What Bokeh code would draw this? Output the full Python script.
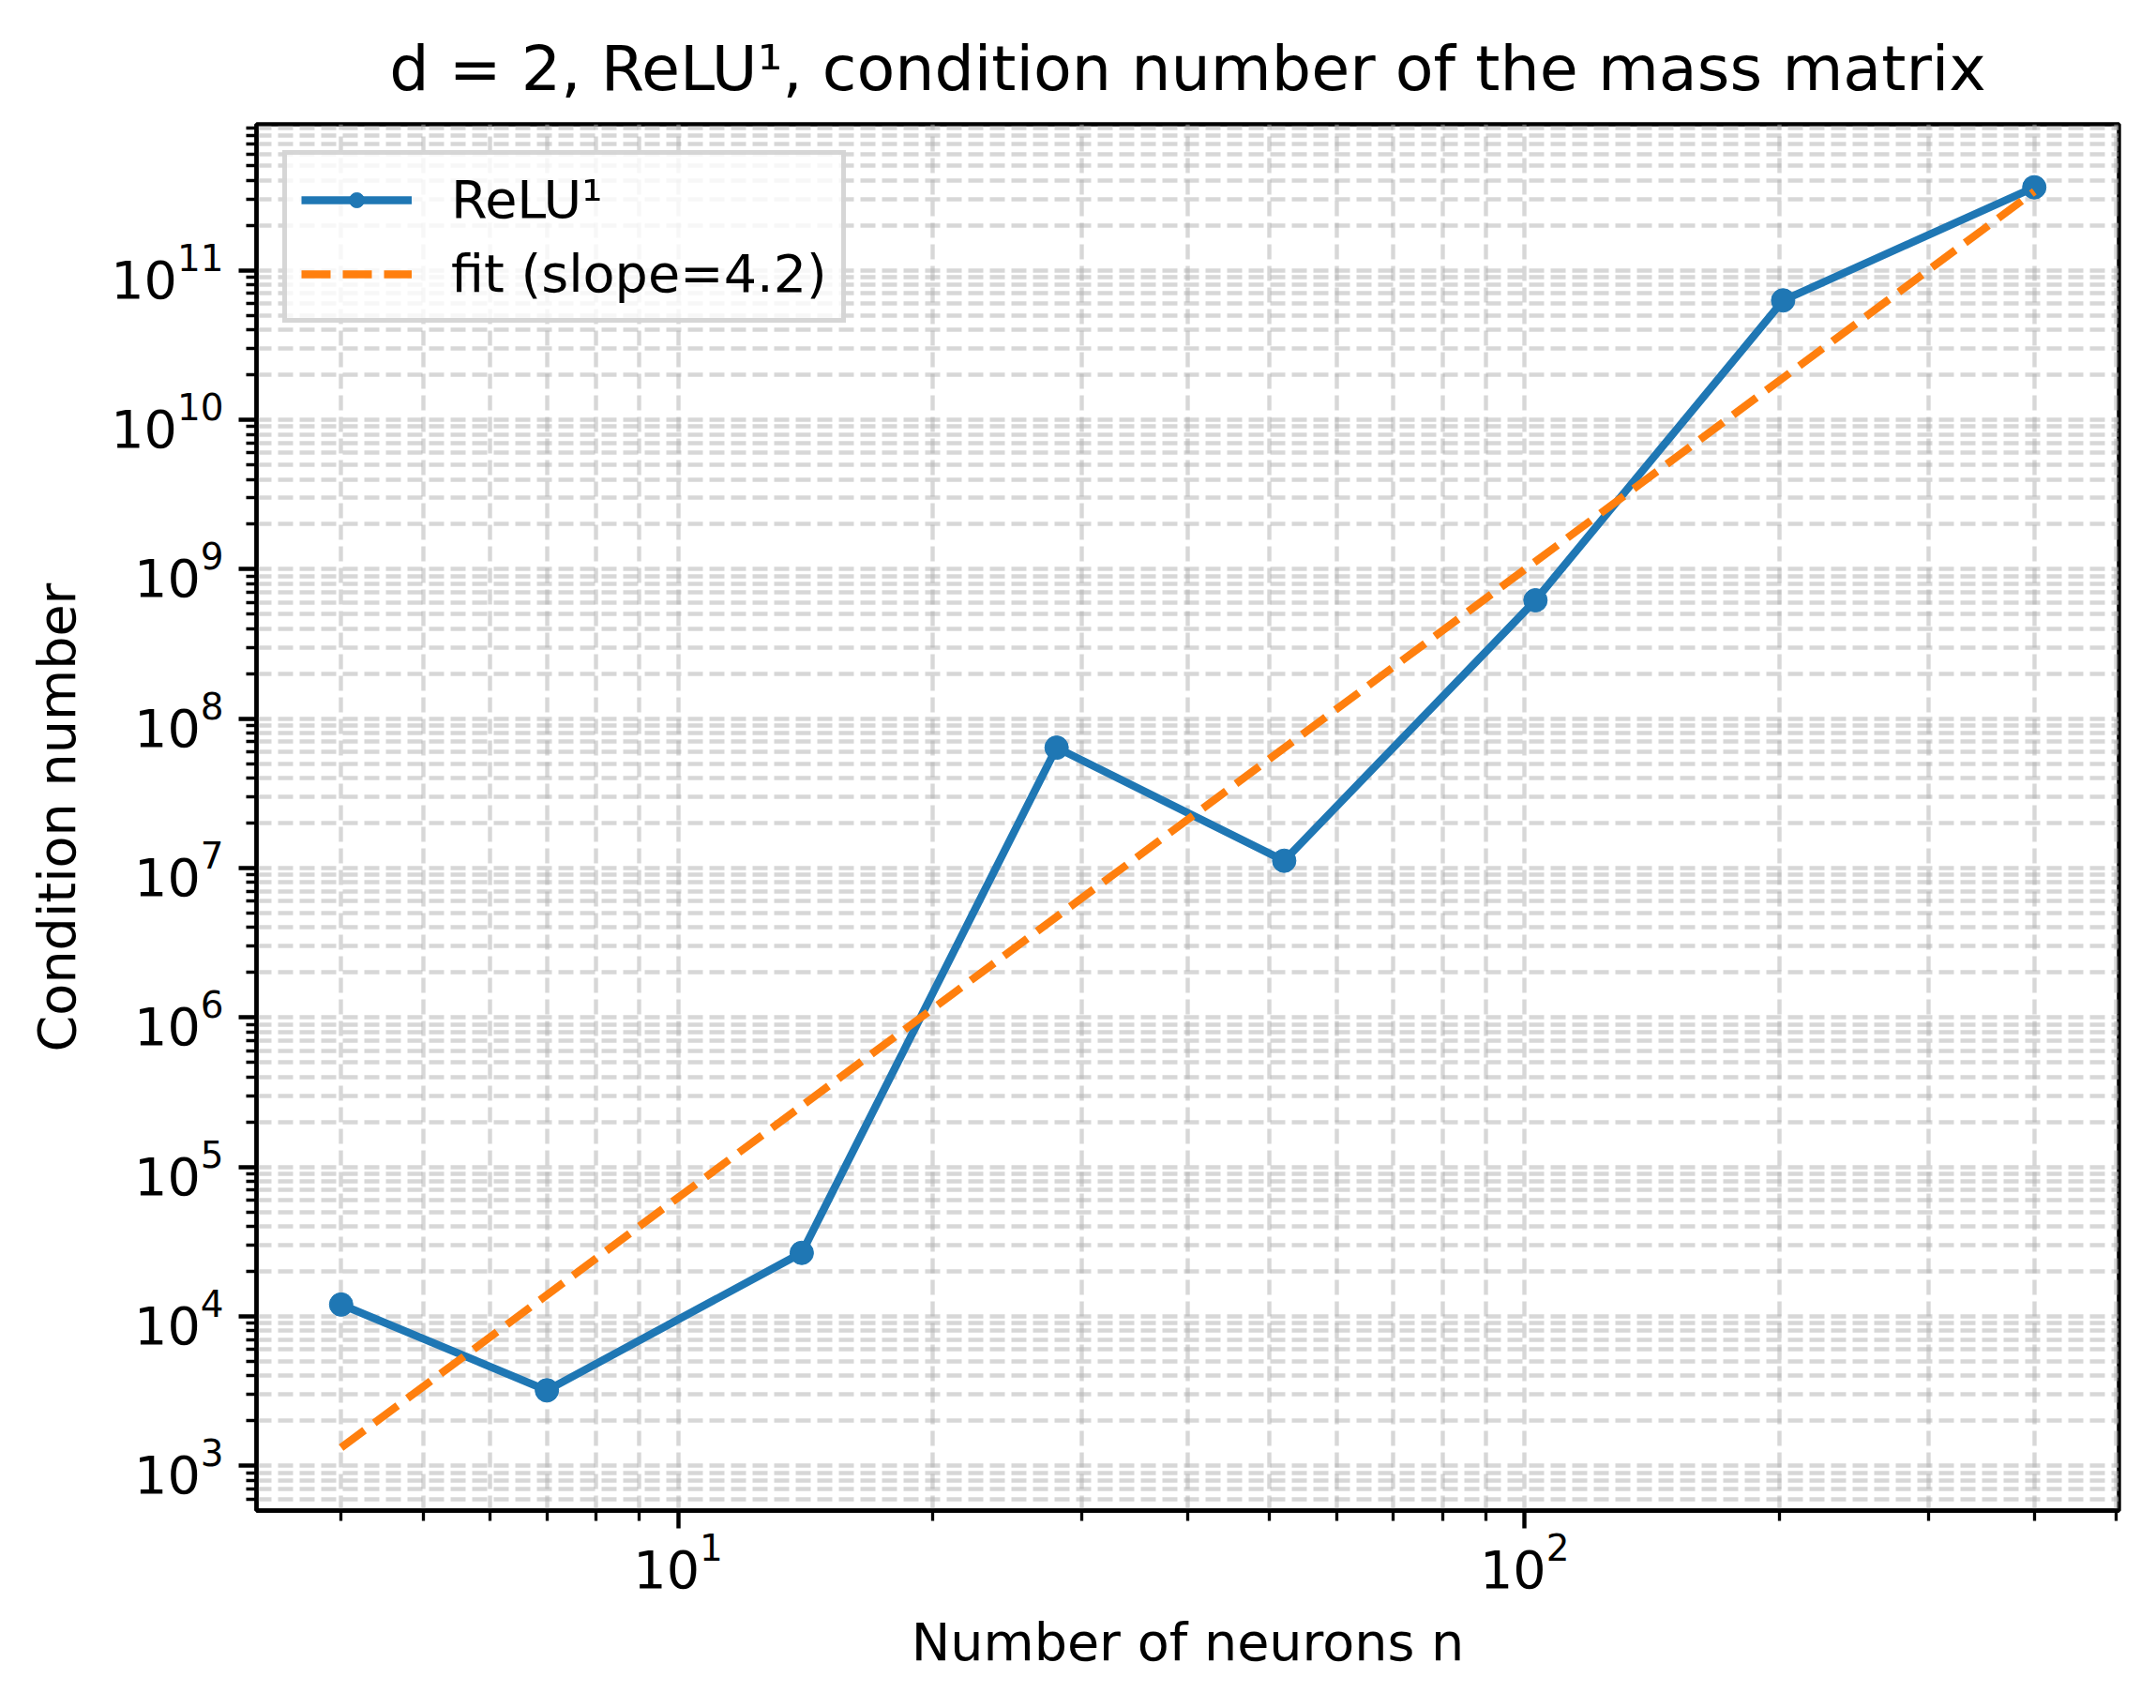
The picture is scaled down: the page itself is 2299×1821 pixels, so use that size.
import numpy as np
from bokeh.plotting import figure
from bokeh.models import Range1d, FixedTicker, Legend, LegendItem
from bokeh.embed import file_html
from bokeh.resources import INLINE

# ---------------- data ----------------
neurons = [4, 7, 14, 28, 52, 103, 202, 400]
cond_numbers = [1.2e4, 3.2e3, 2.66e4, 6.4e7, 1.12e7, 6.2e8, 6.3e10, 3.6e11]
series_label = "ReLU¹"
title_text = "d = 2, ReLU¹, condition number of the mass matrix"
x_label = "Number of neurons n"
y_label = "Condition number"

# ---------------- least-squares fit in log-log space ----------------
lx = np.log10(neurons)
ly = np.log10(cond_numbers)
slope, intercept = np.polyfit(lx, ly, 1)
fit_x = [min(neurons), max(neurons)]
fit_y = [10 ** (intercept + slope * np.log10(v)) for v in fit_x]
fit_label = f"fit (slope={slope:.1f})"

# ---------------- ranges (matplotlib-like 5% log margins) ----------------
def log_range(vals, margin=0.05):
    lo, hi = np.log10(min(vals)), np.log10(max(vals))
    d = (hi - lo) * margin
    return 10 ** (lo - d), 10 ** (hi + d)

x_lo, x_hi = log_range(neurons)
y_lo, y_hi = log_range(list(cond_numbers) + fit_y)

def log_ticks(lo, hi):
    major, minor = [], []
    for k in range(int(np.floor(np.log10(lo))) - 1, int(np.ceil(np.log10(hi))) + 1):
        for m in range(1, 10):
            v = m * 10.0 ** k
            if lo <= v <= hi:
                (major if m == 1 else minor).append(v)
    return major, minor

x_major, x_minor = log_ticks(x_lo, x_hi)
y_major, y_minor = log_ticks(y_lo, y_hi)

FONT = "DejaVu Sans"
FS = "55.6px"

p = figure(
    x_axis_type="log", y_axis_type="log",
    x_range=Range1d(x_lo, x_hi), y_range=Range1d(y_lo, y_hi),
    frame_width=1986, frame_height=1478,
    min_border_left=273, min_border_right=38,
    min_border_top=132, min_border_bottom=209,
    output_backend="svg", toolbar_location=None,
    title=title_text,
)
p.background_fill_color = "white"
p.border_fill_color = "white"
p.outline_line_color = "black"
p.outline_line_width = 4.4

p.title.text_font = FONT
p.title.text_font_size = "66.7px"
p.title.text_font_style = "normal"
p.title.text_color = "black"
p.title.align = "center"
p.title.vertical_align = "top"
p.title.standoff = 37

xt = FixedTicker(ticks=x_major, minor_ticks=x_minor)
yt = FixedTicker(ticks=y_major, minor_ticks=y_minor)
p.xaxis.ticker = xt
p.yaxis.ticker = yt
p.xgrid.ticker = xt
p.ygrid.ticker = yt

for ax in (p.xaxis[0], p.yaxis[0]):
    ax.axis_line_color = "black"
    ax.axis_line_width = 4.4
    ax.major_tick_out = 19
    ax.major_tick_in = 0
    ax.major_tick_line_width = 4.4
    ax.major_tick_line_color = "black"
    ax.minor_tick_out = 11
    ax.minor_tick_in = 0
    ax.minor_tick_line_width = 3.3
    ax.minor_tick_line_color = "black"
    ax.major_label_text_font = FONT
    ax.major_label_text_font_size = FS
    ax.major_label_text_color = "black"
    ax.axis_label_text_font = FONT
    ax.axis_label_text_font_size = FS
    ax.axis_label_text_font_style = "normal"
    ax.axis_label_text_color = "black"

p.xaxis.major_label_standoff = 4
p.yaxis.major_label_standoff = 16
p.xaxis.axis_label = x_label
p.xaxis.axis_label_standoff = 22
p.yaxis.axis_label = y_label
p.yaxis.axis_label_standoff = 22

for g in (p.xgrid[0], p.ygrid[0]):
    g.grid_line_color = "#b0b0b0"
    g.grid_line_alpha = 0.5
    g.grid_line_width = 4.4
    g.grid_line_dash = "16 7"
    g.minor_grid_line_color = "#b0b0b0"
    g.minor_grid_line_alpha = 0.5
    g.minor_grid_line_width = 4.4
    g.minor_grid_line_dash = "16 7"

l1 = p.line(neurons, cond_numbers, line_color="#1f77b4", line_width=8.3)
s1 = p.scatter(neurons, cond_numbers, size=25, fill_color="#1f77b4", line_color="#1f77b4")
l2 = p.line(fit_x, fit_y, line_color="#ff7f0e", line_width=8.3, line_dash="31 13")

legend = Legend(
    items=[LegendItem(label=series_label, renderers=[l1, s1]),
           LegendItem(label=fit_label, renderers=[l2])],
    location="top_left",
    margin=28, padding=15, spacing=14,
    glyph_width=118, glyph_height=40, label_standoff=42,
    label_text_font=FONT, label_text_font_size=FS, label_text_color="black",
    border_line_color="#cccccc", border_line_width=5, border_line_alpha=0.8,
    background_fill_color="white", background_fill_alpha=0.8,
)
p.add_layout(legend)

open("out.html", "w").write(file_html(p, INLINE))
